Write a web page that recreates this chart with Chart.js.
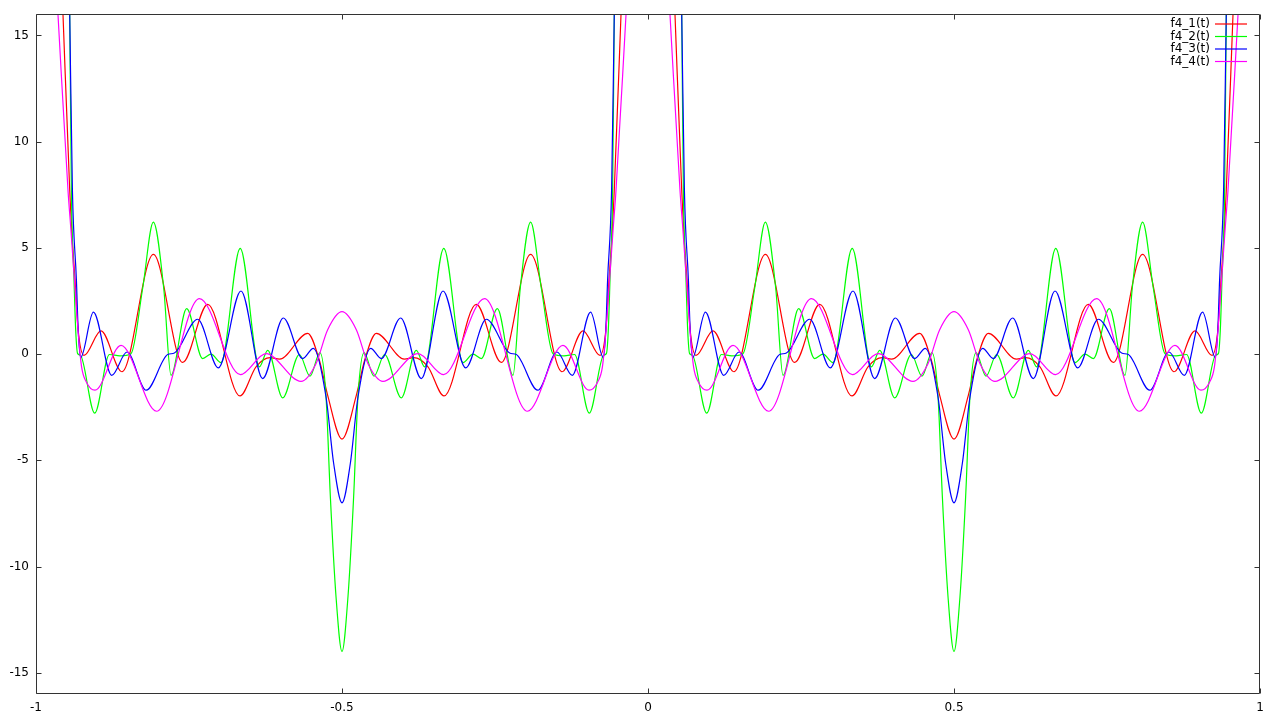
<!DOCTYPE html>
<html><head><meta charset="utf-8">
<script src="https://cdn.jsdelivr.net/npm/chart.js@4/dist/chart.umd.min.js"></script>
<style>html,body{margin:0;padding:0;background:#fff;}#wrap{width:1280px;height:720px;}</style>
</head><body><div id="wrap"><canvas id="c" width="1280" height="720"></canvas></div>
<script>
// Series labels and tick values
const seriesLabels = ['f4_1(t)', 'f4_2(t)', 'f4_3(t)', 'f4_4(t)'];
const xTickValues = [-1, -0.5, 0, 0.5, 1];
const yTickValues = [-15, -10, -5, 0, 5, 10, 15];

// f4_1(t) (red) — null = gap at the singularity (curve leaves the plot)
const t1 = [-0.9559, -0.9449, -0.9417, -0.9363, -0.931, -0.9216, -0.8938, -0.8595, -0.8082, -0.7603, -0.7194, -0.6667, -0.6405, -0.617, -0.602, -0.556, -0.537, -0.5234, -0.5, -0.4766, -0.463, -0.444, -0.398, -0.383, -0.3595, -0.3333, -0.2806, -0.2397, -0.1918, -0.1405, -0.1062, -0.0784, -0.069, -0.0637, -0.0583, -0.0551, -0.0441, 0, 0.0441, 0.0551, 0.0583, 0.0637, 0.069, 0.0784, 0.1062, 0.1405, 0.1918, 0.2397, 0.2806, 0.3333, 0.3595, 0.383, 0.398, 0.444, 0.463, 0.4766, 0.5, 0.5234, 0.537, 0.556, 0.602, 0.617, 0.6405, 0.6667, 0.7194, 0.7603, 0.8082, 0.8595, 0.8938, 0.9216, 0.931, 0.9363, 0.9417, 0.9449, 0.9559];
const f1 = [16, 7.7, 5.8, 3.5, 1.1, -0.06, 1.09, -0.83, 4.69, -0.39, 2.34, -1.97, -0.6, -0.17, -0.24, 0.98, -0.29, -1.94, -4, -1.94, -0.29, 0.98, -0.24, -0.17, -0.6, -1.97, 2.34, -0.39, 4.69, -0.83, 1.09, -0.06, 1.1, 3.5, 5.8, 7.7, 16, null, 16, 7.7, 5.8, 3.5, 1.1, -0.06, 1.09, -0.83, 4.69, -0.39, 2.34, -1.97, -0.6, -0.17, -0.24, 0.98, -0.29, -1.94, -4, -1.94, -0.29, 0.98, -0.24, -0.17, -0.6, -1.97, 2.34, -0.39, 4.69, -0.83, 1.09, -0.06, 1.1, 3.5, 5.8, 7.7, 16];

// f4_2(t) (green)
const t2 = [-0.9449, -0.9422, -0.9379, -0.9351, -0.932, -0.9275, -0.9041, -0.88, -0.863, -0.8448, -0.8257, -0.8082, -0.7913, -0.7794, -0.7538, -0.7276, -0.714, -0.6977, -0.6663, -0.635, -0.6214, -0.5969, -0.5696, -0.5523, -0.536, -0.5261, -0.519, -0.5098, -0.5, -0.4902, -0.481, -0.4739, -0.464, -0.4477, -0.4304, -0.4031, -0.3786, -0.365, -0.3337, -0.3023, -0.286, -0.2724, -0.2462, -0.2206, -0.2087, -0.1918, -0.1743, -0.1552, -0.137, -0.12, -0.0959, -0.0725, -0.068, -0.0649, -0.0621, -0.0578, -0.0551, 0, 0.0551, 0.0578, 0.0621, 0.0649, 0.068, 0.0725, 0.0959, 0.12, 0.137, 0.1552, 0.1743, 0.1918, 0.2087, 0.2206, 0.2462, 0.2724, 0.286, 0.3023, 0.3337, 0.365, 0.3786, 0.4031, 0.4304, 0.4477, 0.464, 0.4739, 0.481, 0.4902, 0.5, 0.5098, 0.519, 0.5261, 0.536, 0.5523, 0.5696, 0.5969, 0.6214, 0.635, 0.6663, 0.6977, 0.714, 0.7276, 0.7538, 0.7794, 0.7913, 0.8082, 0.8257, 0.8448, 0.863, 0.88, 0.9041, 0.9275, 0.932, 0.9351, 0.9379, 0.9422, 0.9449];
const f2 = [16, 7.7, 3.5, 1.1, 0.02, -0.05, -2.78, -0.02, -0.08, 0.02, 3.1, 6.21, 3.1, -1.0, 2.14, -0.21, 0.0, -0.4, 4.98, -0.6, 0.18, -2.06, -0.02, -1.04, 0.07, -2.0, -6.72, -11.41, -14, -11.41, -6.72, -2.0, 0.07, -1.04, -0.02, -2.06, 0.18, -0.6, 4.98, -0.4, 0.0, -0.21, 2.14, -1.0, 3.1, 6.21, 3.1, 0.02, -0.08, -0.02, -2.78, -0.05, 0.02, 1.1, 3.5, 7.7, 16, null, 16, 7.7, 3.5, 1.1, 0.02, -0.05, -2.78, -0.02, -0.08, 0.02, 3.1, 6.21, 3.1, -1.0, 2.14, -0.21, 0.0, -0.4, 4.98, -0.6, 0.18, -2.06, -0.02, -1.04, 0.07, -2.0, -6.72, -11.41, -14, -11.41, -6.72, -2.0, 0.07, -1.04, -0.02, -2.06, 0.18, -0.6, 4.98, -0.4, 0.0, -0.21, 2.14, -1.0, 3.1, 6.21, 3.1, 0.02, -0.08, -0.02, -2.78, -0.05, 0.02, 1.1, 3.5, 7.7, 16];

// f4_3(t) (blue)
const t3 = [-0.9449, -0.9405, -0.934, -0.931, -0.927, -0.9062, -0.8763, -0.8513, -0.82, -0.7848, -0.7739, -0.7358, -0.702, -0.665, -0.6296, -0.5958, -0.5642, -0.5468, -0.5261, -0.5136, -0.5, -0.4864, -0.4739, -0.4532, -0.4358, -0.4042, -0.3704, -0.335, -0.298, -0.2642, -0.2261, -0.2152, -0.18, -0.1487, -0.1237, -0.0938, -0.073, -0.069, -0.066, -0.0595, -0.0551, 0, 0.0551, 0.0595, 0.066, 0.069, 0.073, 0.0938, 0.1237, 0.1487, 0.18, 0.2152, 0.2261, 0.2642, 0.298, 0.335, 0.3704, 0.4042, 0.4358, 0.4532, 0.4739, 0.4864, 0.5, 0.5136, 0.5261, 0.5468, 0.5642, 0.5958, 0.6296, 0.665, 0.702, 0.7358, 0.7739, 0.7848, 0.82, 0.8513, 0.8763, 0.9062, 0.927, 0.931, 0.934, 0.9405, 0.9449];
const f3 = [16, 7.7, 3.5, 1.1, -0.16, 1.98, -1.0, 0.1, -1.7, -0.02, 0.05, 1.64, -0.65, 2.97, -1.15, 1.7, -0.21, 0.27, -2.02, -5.15, -7, -5.15, -2.02, 0.27, -0.21, 1.7, -1.15, 2.97, -0.65, 1.64, 0.05, -0.02, -1.7, 0.1, -1.0, 1.98, -0.16, 1.1, 3.5, 7.7, 16, null, 16, 7.7, 3.5, 1.1, -0.16, 1.98, -1.0, 0.1, -1.7, -0.02, 0.05, 1.64, -0.65, 2.97, -1.15, 1.7, -0.21, 0.27, -2.02, -5.15, -7, -5.15, -2.02, 0.27, -0.21, 1.7, -1.15, 2.97, -0.65, 1.64, 0.05, -0.02, -1.7, 0.1, -1.0, 1.98, -0.16, 1.1, 3.5, 7.7, 16];

// f4_4(t) (magenta)
const t4 = [-0.9641, -0.9477, -0.9428, -0.9365, -0.931, -0.9255, -0.918, -0.9036, -0.8611, -0.8028, -0.733, -0.666, -0.6242, -0.567, -0.5425, -0.5234, -0.5, -0.4766, -0.4575, -0.433, -0.3758, -0.334, -0.267, -0.1972, -0.1389, -0.0964, -0.082, -0.0745, -0.069, -0.0635, -0.0572, -0.0523, -0.0359, 0, 0.0359, 0.0523, 0.0572, 0.0635, 0.069, 0.0745, 0.082, 0.0964, 0.1389, 0.1972, 0.267, 0.334, 0.3758, 0.433, 0.4575, 0.4766, 0.5, 0.5234, 0.5425, 0.567, 0.6242, 0.666, 0.733, 0.8028, 0.8611, 0.9036, 0.918, 0.9255, 0.931, 0.9365, 0.9428, 0.9477, 0.9641];
const f4 = [16, 7.7, 5.8, 3.2, 1.0, -0.6, -1.3, -1.7, 0.41, -2.69, 2.61, -0.97, 0.02, -1.28, -0.45, 1.15, 2.0, 1.15, -0.45, -1.28, 0.02, -0.97, 2.61, -2.69, 0.41, -1.7, -1.3, -0.6, 1.0, 3.2, 5.8, 7.7, 16, null, 16, 7.7, 5.8, 3.2, 1.0, -0.6, -1.3, -1.7, 0.41, -2.69, 2.61, -0.97, 0.02, -1.28, -0.45, 1.15, 2.0, 1.15, -0.45, -1.28, 0.02, -0.97, 2.61, -2.69, 0.41, -1.7, -1.3, -0.6, 1.0, 3.2, 5.8, 7.7, 16];

const seriesT = [t1, t2, t3, t4];
const seriesV = [f1, f2, f3, f4];
const lineColors = ['#ff0000', '#00ff00', '#0000ff', '#ff00ff'];

const FONT = '"DejaVu Sans", sans-serif';
Chart.defaults.font.family = FONT;
Chart.defaults.font.size = 12;
Chart.defaults.color = '#000';

const framePlugin = {
  id: 'frame',
  afterDraw(chart) {
    const { ctx, chartArea: a, scales } = chart;
    const xs = scales.x, ys = scales.y;
    ctx.save();
    ctx.strokeStyle = '#333';
    ctx.lineWidth = 1;
    const L = Math.round(a.left) + 0.5, R = Math.round(a.right) - 0.5;
    const T = Math.round(a.top) + 0.5, B = Math.round(a.bottom) - 0.5;
    ctx.beginPath();
    ctx.rect(L, T, R - L, B - T);
    const tl = 5;
    xTickValues.forEach(v => {
      const p = Math.round(xs.getPixelForValue(v)) + 0.5;
      ctx.moveTo(p, B); ctx.lineTo(p, B - tl);
      ctx.moveTo(p, T); ctx.lineTo(p, T + tl);
    });
    yTickValues.forEach(v => {
      const p = Math.round(ys.getPixelForValue(v)) + 0.5;
      ctx.moveTo(L, p); ctx.lineTo(L + tl, p);
      ctx.moveTo(R, p); ctx.lineTo(R - tl, p);
    });
    ctx.stroke();
    ctx.restore();
  }
};

const keyPlugin = {
  id: 'key',
  afterDraw(chart) {
    const ctx = chart.ctx;
    ctx.save();
    ctx.font = '12px ' + FONT;
    ctx.textAlign = 'right';
    ctx.textBaseline = 'middle';
    chart.data.datasets.forEach((ds, i) => {
      const yy = 24 + i * 12.5;
      ctx.fillStyle = '#000';
      ctx.fillText(ds.label, 1210, yy);
      ctx.strokeStyle = ds.borderColor;
      ctx.lineWidth = 1.2;
      ctx.beginPath();
      ctx.moveTo(1215, yy); ctx.lineTo(1247, yy);
      ctx.stroke();
    });
    ctx.restore();
  }
};

new Chart(document.getElementById('c'), {
  type: 'line',
  data: {
    datasets: seriesLabels.map((lab, i) => ({
      label: lab,
      data: seriesT[i].map((x, j) => ({ x: x, y: seriesV[i][j] })),
      borderColor: lineColors[i],
      backgroundColor: lineColors[i],
      borderWidth: 1.2,
      pointRadius: 0,
      fill: false,
      spanGaps: false,
      cubicInterpolationMode: 'monotone',
      order: 4 - i
    }))
  },
  options: {
    responsive: false,
    animation: false,
    events: [],
    layout: { padding: { left: 0, right: 20, top: 13, bottom: 0 } },
    plugins: { legend: { display: false }, tooltip: { enabled: false } },
    scales: {
      x: {
        type: 'linear', min: -1, max: 1,
        afterFit(s) { s.height = 26; },
        afterBuildTicks(s) { s.ticks = xTickValues.map(v => ({ value: v })); },
        grid: { display: false, drawTicks: false },
        border: { display: false },
        ticks: { autoSkip: false, maxRotation: 0, padding: 7, callback: v => String(Math.round(v * 10) / 10) }
      },
      y: {
        type: 'linear', min: -16, max: 16,
        afterFit(s) { s.width = 36; },
        afterBuildTicks(s) { s.ticks = yTickValues.map(v => ({ value: v })); },
        grid: { display: false, drawTicks: false },
        border: { display: false },
        ticks: { padding: 7, callback: v => String(v) }
      }
    }
  },
  plugins: [framePlugin, keyPlugin]
});
</script></body></html>
